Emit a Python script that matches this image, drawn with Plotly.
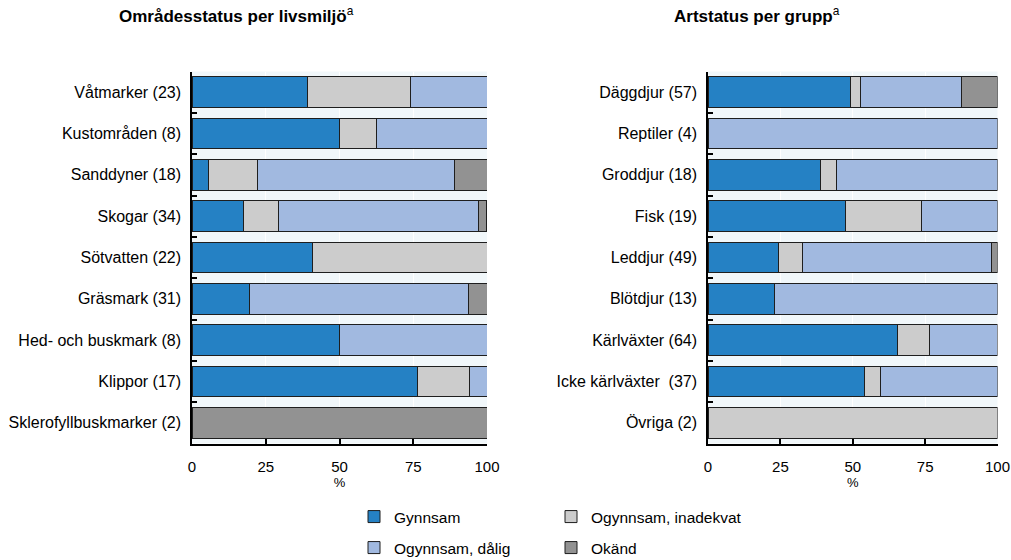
import plotly.graph_objects as go

# ---- data ----
habitats = ["Våtmarker (23)", "Kustområden (8)", "Sanddyner (18)", "Skogar (34)",
            "Sötvatten (22)", "Gräsmark (31)", "Hed- och buskmark (8)", "Klippor (17)",
            "Sklerofyllbuskmarker (2)"]
h_gynnsam = [39.1, 50.0, 5.6, 17.6, 40.9, 19.4, 50.0, 76.5, 0]
h_inadekvat = [34.8, 12.5, 16.7, 11.8, 59.1, 0, 0, 17.6, 0]
h_dalig = [26.1, 37.5, 66.7, 67.6, 0, 74.2, 50.0, 5.9, 0]
h_okand = [0, 0, 11.1, 2.9, 0, 6.5, 0, 0, 100]

groups = ["Däggdjur (57)", "Reptiler (4)", "Groddjur (18)", "Fisk (19)", "Leddjur (49)",
          "Blötdjur (13)", "Kärlväxter (64)", "Icke kärlväxter  (37)", "Övriga (2)"]
g_gynnsam = [49.1, 0, 38.9, 47.4, 24.5, 23.1, 65.6, 54.1, 0]
g_inadekvat = [3.5, 0, 5.6, 26.3, 8.2, 0, 10.9, 5.4, 100]
g_dalig = [35.1, 100, 55.6, 26.3, 65.3, 76.9, 23.4, 40.5, 0]
g_okand = [12.3, 0, 0, 0, 2.0, 0, 0, 0, 0]

series_names = ["Gynnsam", "Ogynnsam, inadekvat", "Ogynnsam, dålig", "Okänd"]
colors = ["#2581c4", "#cccccc", "#a1b9e0", "#929292"]
x_ticks = [0, 25, 50, 75, 100]

FONT = "Liberation Sans, Arial, sans-serif"

fig = go.Figure()

left_series = [h_gynnsam, h_inadekvat, h_dalig, h_okand]
right_series = [g_gynnsam, g_inadekvat, g_dalig, g_okand]
legend_of = ["legend", "legend", "legend2", "legend2"]

for i, name in enumerate(series_names):
    lv = [v if v else None for v in left_series[i]]
    rv = [v if v else None for v in right_series[i]]
    fig.add_trace(go.Bar(
        y=habitats, x=lv, orientation="h", name=name,
        marker=dict(color=colors[i], line=dict(color="#1e1e1e", width=1)),
        xaxis="x", yaxis="y", legend=legend_of[i], showlegend=True,
        hoverinfo="skip"))
    fig.add_trace(go.Bar(
        y=groups, x=rv, orientation="h", name=name,
        marker=dict(color=colors[i], line=dict(color="#1e1e1e", width=1)),
        xaxis="x2", yaxis="y2", legend=legend_of[i], showlegend=False,
        hoverinfo="skip"))

W, H = 1011, 560
ydom = [(H - 443.5) / H, (H - 71.5) / H]

xaxis_common = dict(
    range=[0, 100], tickvals=x_ticks, ticks="inside", ticklen=5, tickwidth=1.5,
    tickcolor="black", showline=True, linecolor="black", linewidth=1.5,
    showgrid=True, gridcolor="white", gridwidth=1, zeroline=False,
    tickfont=dict(family=FONT, size=15, color="black"),
    ticklabelstandoff=9, automargin=False,
    title=dict(text="%", font=dict(family=FONT, size=13, color="black"), standoff=0),
    fixedrange=True,
)
yaxis_common = dict(
    autorange="reversed", ticks="inside", ticklen=5, tickwidth=1.5, tickcolor="black",
    tickson="boundaries", showline=True, linecolor="black", linewidth=1.5,
    showgrid=False, tickfont=dict(family=FONT, size=16, color="black"),
    ticklabelstandoff=6, fixedrange=True, automargin=False,
)

leg_common = dict(orientation="h", xanchor="left", yanchor="top",
                  entrywidth=152, entrywidthmode="pixels", traceorder="normal",
                  font=dict(family=FONT, size=15.5, color="black"), bgcolor="rgba(0,0,0,0)")

fig.update_layout(
    width=W, height=H,
    margin=dict(l=0, r=0, t=0, b=0, autoexpand=False),
    paper_bgcolor="white", plot_bgcolor="#f1f7fa",
    barmode="stack", bargap=0.255,
    font=dict(family=FONT, size=15, color="black"),
    xaxis=dict(domain=[192 / W, 487 / W], anchor="y", **xaxis_common),
    yaxis=dict(domain=ydom, anchor="x", **yaxis_common),
    xaxis2=dict(domain=[708 / W, 997.5 / W], anchor="y2", **xaxis_common),
    yaxis2=dict(domain=ydom, anchor="x2", **yaxis_common),
    legend=dict(x=354 / W, y=(H - 500) / H, **leg_common),
    legend2=dict(x=354 / W, y=(H - 531) / H, **leg_common),
    annotations=[
        dict(text="<b>Områdesstatus per livsmiljö</b><sup>a</sup>", x=236 / W, y=(H - 15) / H,
             xref="paper", yref="paper", xanchor="center", yanchor="middle", showarrow=False,
             font=dict(family=FONT, size=17, color="black")),
        dict(text="<b>Artstatus per grupp</b><sup>a</sup>", x=757 / W, y=(H - 15) / H,
             xref="paper", yref="paper", xanchor="center", yanchor="middle", showarrow=False,
             font=dict(family=FONT, size=17, color="black")),
    ],
)

fig.write_html(
    "out.html", config={"displayModeBar": False},
    post_script=("document.body.style.margin='0';"
                 "document.body.style.overflow='hidden';"
                 "document.documentElement.style.overflow='hidden';"))
